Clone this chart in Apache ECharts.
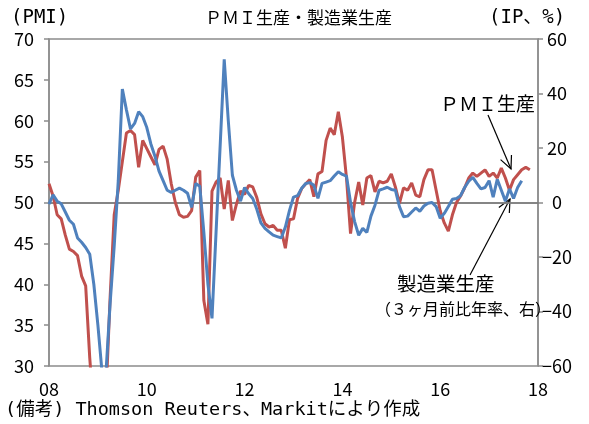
<!DOCTYPE html>
<html>
<head>
<meta charset="utf-8">
<script src="https://cdn.jsdelivr.net/npm/echarts@6/dist/echarts.min.js"></script>
<style>
html, body { margin: 0; padding: 0; background: #fff; }
#main { width: 589px; height: 424px; }
</style>
</head>
<body>
<div id="main"></div>
<script>
// monthly data, Jan 2008 onwards
var startYear = 2008;
var yearLabels = ['08', '10', '12', '14', '16', '18'];

// PMI output index (left axis), Jan 2008 - Nov 2017
var pmiOutput = [
  52.3, 50.8, 48.5, 48.0, 46.0, 44.3, 44.0, 43.5, 41.0, 39.8, 31.0, 24.0,
  23.0, 25.0, 26.6, 38.4, 48.5, 51.5, 55.0, 58.5, 58.8, 58.3, 54.3, 57.6,
  56.6, 55.6, 54.6, 56.5, 56.9, 55.3, 52.3, 50.0, 48.5, 48.2, 48.3, 49.0,
  53.1, 53.9, 38.0, 35.1, 51.4, 52.5, 53.0, 49.2, 52.7, 47.8, 49.8, 51.4,
  51.0, 52.1, 51.9, 50.6, 48.6, 47.4, 47.0, 47.2, 46.6, 46.6, 44.4, 47.9,
  48.0, 50.5, 51.7, 52.3, 52.8, 50.7, 53.5, 53.8, 57.6, 59.1, 58.3, 61.1,
  58.0, 53.0, 46.2, 50.0, 52.5, 49.7, 53.0, 53.3, 51.3, 52.6, 52.4, 52.6,
  53.5, 51.9, 49.9, 51.8, 51.5, 52.4, 50.9, 50.7, 52.8, 54.0, 54.0, 51.5,
  49.0, 47.5, 46.5, 48.5, 50.0, 50.8, 51.8, 53.0, 53.6, 53.2, 53.6, 54.0,
  53.2, 53.6, 53.0, 54.2, 53.0, 51.5, 52.8, 53.4, 54.0, 54.3, 54.0
];

// manufacturing production, 3m/3m annualised % (right axis), Jan 2008 - Sep 2017
var ipProduction = [
  -0.6, 2.8, 0.5, -0.5, -3.5, -6.5, -8.0, -13.0, -14.6, -16.5, -19.0, -30.0,
  -45.0, -62.0, -62.0, -37.0, -16.0, 8.0, 41.6, 34.0, 27.0, 29.0, 33.3, 31.5,
  27.5, 21.5, 17.0, 11.5, 8.0, 4.5, 3.7, 4.5, 5.3, 4.5, 3.4, -1.8,
  7.0, 6.0, -11.0, -30.0, -42.5, -10.8, 20.8, 52.5, 30.0, 10.0, 4.5, 0.5,
  5.5, 3.2, 1.5, -2.5, -7.5, -9.5, -10.8, -12.0, -12.5, -13.0, -9.0, -3.0,
  2.0, 2.5, 5.2, 7.0, 7.3, 6.3, 1.5, 7.0, 7.5, 8.0, 9.7, 11.3,
  10.3, 9.7, 0.0, -7.0, -12.0, -9.5, -11.0, -5.0, -1.0, 4.5, 5.0, 5.6,
  4.8, 4.5, -1.5, -5.2, -5.0, -3.5, -2.0, -3.2, -1.3, -0.3, 0.0, -1.5,
  -5.8, -4.0, -1.5, 1.2, 1.5, 2.5, 5.5, 7.8, 9.2, 7.0, 5.0, 5.5,
  8.0, 2.0, 8.5, 4.5, 0.5, 5.0, 1.5, 5.5, 8.0
];

function toPoints(arr) {
  return arr.map(function (v, i) { return [startYear + i / 12, v]; });
}

// open arrow head at (tx,ty), coming from (fx,fy)
function arrow(fx, fy, tx, ty) {
  var back = Math.atan2(fy - ty, fx - tx);
  var len = 14, a = 25 * Math.PI / 180;
  var p1 = [tx + len * Math.cos(back - a), ty + len * Math.sin(back - a)];
  var p2 = [tx + len * Math.cos(back + a), ty + len * Math.sin(back + a)];
  var style = { stroke: '#000', lineWidth: 1.2, fill: null };
  return [
    { type: 'line', shape: { x1: fx, y1: fy, x2: tx, y2: ty }, style: style, silent: true },
    { type: 'polyline', shape: { points: [p1, [tx, ty], p2] }, style: style, silent: true }
  ];
}

var font = "'Noto Sans CJK JP', sans-serif";
// half-width latin, full-width kana/kanji, like the original gothic font
var monoFont = "'DejaVu Sans Mono', 'Noto Sans CJK JP', monospace";
var grey = '#8c8c8c';

function label(text, left, top, size, family) {
  return { text: text, left: left, top: top, padding: 0,
    textStyle: { fontSize: size, fontWeight: 'normal', fontFamily: family || font, color: '#000' } };
}

var myChart = echarts.init(document.getElementById('main'));
myChart.setOption({
  animation: false,
  textStyle: { fontFamily: font, color: '#000' },
  title: [
    label('ＰＭＩ生産・製造業生産', 205, 9, 17),
    label('(PMI)', 11, 9, 19, monoFont),
    label('(IP、%)', 489, 9, 19, monoFont),
    label('ＰＭＩ生産', 440, 94, 19),
    label('製造業生産', 397, 274, 19.5),
    label('（３ヶ月前比年率、右）', 375, 301, 16),
    label('(備考) Thomson Reuters、Markitにより作成', 5, 401, 18.5, monoFont)
  ],
  grid: { left: 49, right: 51, top: 39, bottom: 58, show: true, borderColor: grey, borderWidth: 1.5 },
  xAxis: {
    type: 'value', min: 2008, max: 2018, interval: 2,
    axisLine: { lineStyle: { color: '#404040', width: 1.5 } },
    axisTick: { show: false },
    splitLine: { show: false },
    axisLabel: {
      fontSize: 18, color: '#000', margin: 14, fontFamily: font,
      formatter: function (v) { return yearLabels[(v - startYear) / 2]; }
    }
  },
  yAxis: [{
    type: 'value', min: 30, max: 70, interval: 5, position: 'left',
    axisLine: { show: true, lineStyle: { color: grey, width: 1.5 } },
    axisTick: { show: true, length: 5, lineStyle: { color: grey, width: 1.5 } },
    splitLine: { show: false },
    axisLabel: { fontSize: 18, color: '#000', margin: 15, fontFamily: font }
  }, {
    type: 'value', min: -60, max: 60, interval: 20, position: 'right',
    axisLine: { show: true, lineStyle: { color: grey, width: 1.5 } },
    axisTick: { show: true, length: 5, lineStyle: { color: grey, width: 1.5 } },
    splitLine: { show: false },
    axisLabel: {
      fontSize: 18, color: '#000', margin: 19, align: 'center', fontFamily: font,
      formatter: function (v) { return v < 0 ? '−' + Math.abs(v) : String(v); }
    }
  }],
  series: [{
    name: 'PMI生産', type: 'line', yAxisIndex: 0, data: toPoints(pmiOutput),
    showSymbol: false, symbol: 'none', clip: true, z: 3,
    lineStyle: { color: '#C0504D', width: 3 }
  }, {
    name: '製造業生産', type: 'line', yAxisIndex: 1, data: toPoints(ipProduction),
    showSymbol: false, symbol: 'none', clip: true, z: 4,
    lineStyle: { color: '#4F81BD', width: 3 },
    markLine: {
      silent: true, symbol: 'none', label: { show: false }, z: 1,
      lineStyle: { color: grey, width: 1.5, type: 'solid' },
      data: [{ yAxis: 0 }]
    }
  }],
  graphic: arrow(488, 115, 511, 169).concat(arrow(470, 275, 510, 199))
});
</script>
</body>
</html>
